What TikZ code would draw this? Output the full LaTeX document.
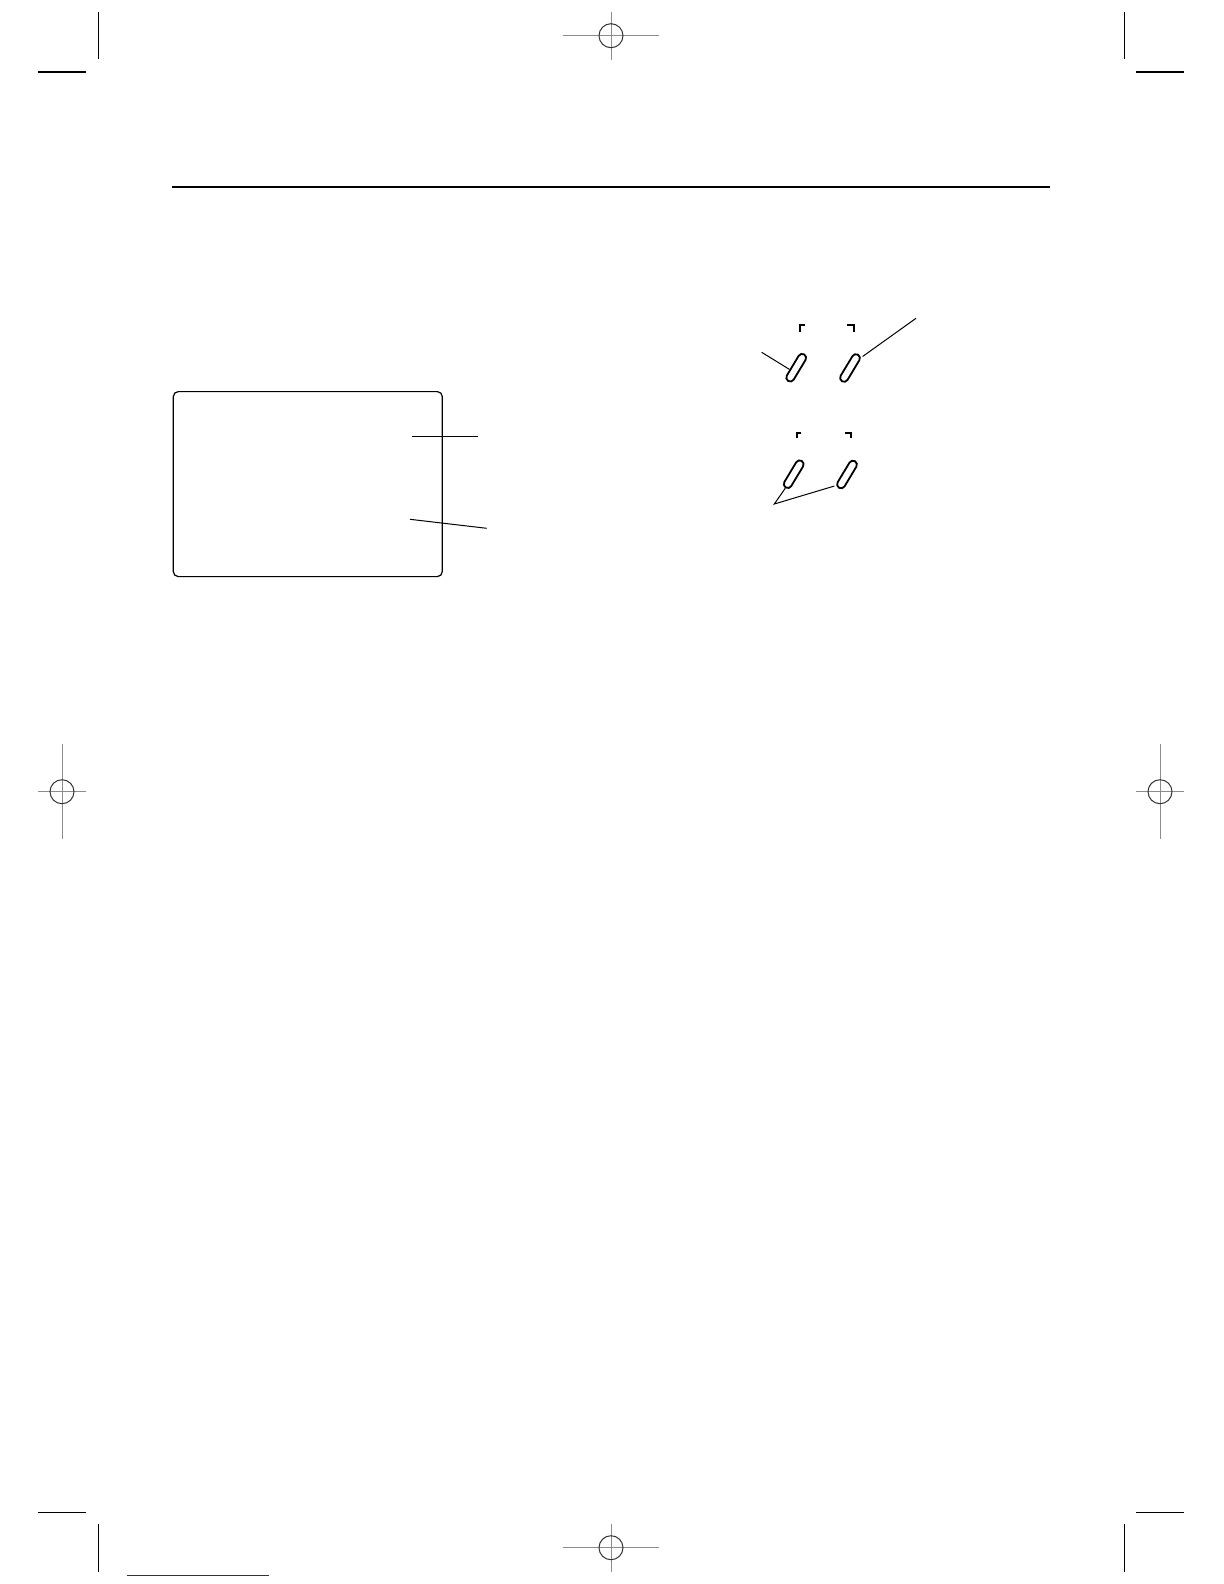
\documentclass[tikz,border=0pt]{standalone}
\usetikzlibrary{calc}
\definecolor{linkblue}{RGB}{30,40,160}
\begin{document}
\begin{tikzpicture}[x=0.5bp,y=-0.5bp,
  regline/.style={draw=black!45, line width=0.5bp},
  regcircle/.style={draw=black!80, line width=0.5bp},
  cropline/.style={draw=black, line width=0.7bp},
  toprule/.style={draw=black, line width=0.8bp},
  screenframe/.style={draw, rectangle, line width=0.6bp, rounded corners=2.5bp, inner sep=0pt},
  capsule/.style={draw, rectangle, rounded corners=2bp, minimum width=15.5bp, minimum height=4bp, inner sep=0pt, line width=0.9bp, rotate=59},
  leader/.style={draw=black, line width=0.5bp},
  bracket/.style={draw=black, line width=0.9bp}]
\useasboundingbox (0,0) rectangle (1224,1584);
\fill[white] (0,0) rectangle (1224,1584);

% crop marks
\draw[cropline] (98.3,12) -- (98.3,59.3);
\draw[cropline] (38,72) -- (85.7,72);
\draw[cropline] (1124.3,12) -- (1124.3,59.3);
\draw[cropline] (1136,72) -- (1183.7,72);
\draw[cropline] (38,1512.3) -- (85.7,1512.3);
\draw[cropline] (98.3,1524) -- (98.3,1571.7);
\draw[cropline] (1136,1512.3) -- (1183.7,1512.3);
\draw[cropline] (1124.3,1524) -- (1124.3,1571.7);

% registration marks
\foreach \cx/\cy/\hx/\hy in {611/35.7/48/24, 611/1547.7/48/24, 62/791.7/24/47.7, 1160/791.7/24/47.7}{
  \draw[regline] (\cx-\hx,\cy) -- (\cx+\hx,\cy);
  \draw[regline] (\cx,\cy-\hy) -- (\cx,\cy+\hy);
  \draw[regcircle] (\cx,\cy) circle[radius=6bp];
}

% top rule
\draw[toprule] (172,186.8) -- (1050,186.8);

% screen frame
\node[screenframe, anchor=north west, minimum width=134.5bp, minimum height=92.5bp] (screen) at (172.7,391) {};
\coordinate (sa1) at (412,436.7);
\coordinate (sa2) at (477.7,436.7);
\coordinate (sb1) at (410,519.3);
\coordinate (sb2) at (486.7,528.3);
\draw[leader] (sa1) -- (sa2);
\draw[leader] (sb1) -- (sb2);

% brackets
\draw[bracket] (804.7,325) -- (800,325) -- (800,332.3);
\draw[bracket] (847.3,325) -- (854.3,325) -- (854.3,332.3);
\draw[bracket] (801.3,432.7) -- (796.7,432.7) -- (796.7,438.3);
\draw[bracket] (845,432.7) -- (851,432.7) -- (851,438.3);

% capsules
\node[capsule] (c1) at (796.2,367.7) {};
\node[capsule] (c2) at (850,368) {};
\node[capsule] (c3) at (793.7,474.2) {};
\node[capsule] (c4) at (847,474.5) {};

% leaders to capsules
\coordinate (l1) at (761.7,352.3);
\coordinate (l2) at (916,318.3);
\coordinate (l3) at (774.3,504);
\draw[leader] (l1) -- ($(c1.north)!0.3!(c1.north west)$);
\draw[leader] (l2) -- (c2.south east);
\draw[leader] (c3.west) -- (l3) -- (c4.north west);

% link underline
\draw[draw=linkblue, line width=0.6bp] (127,1575.3) -- (268.7,1575.3);
\end{tikzpicture}
\end{document}
